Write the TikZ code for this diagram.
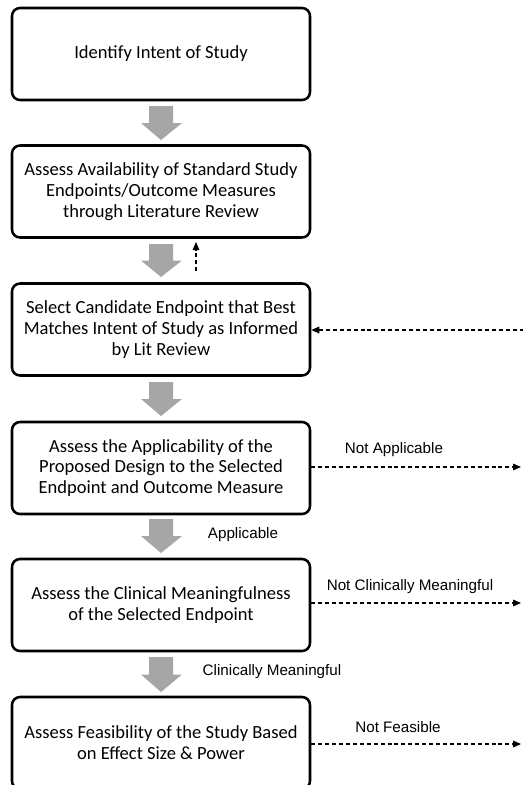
\documentclass[tikz,border=0pt]{standalone}
\usepackage{fontspec}
\usetikzlibrary{arrows.meta}
\newfontfamily\boxfont{Carlito}
\newfontfamily\lblfont{Liberation Sans}
\begin{document}
\begin{tikzpicture}[x=0.75pt,y=-0.75pt,
  stepbox/.style={draw=black,line width=1.9pt,rounded corners=6pt,fill=white,
    minimum width=223.5pt,minimum height=69pt,align=center,inner sep=0pt,
    font=\fontsize{13.9pt}{15.6pt}\boxfont},
  lbl/.style={font=\fontsize{11.4pt}{13pt}\lblfont,inner sep=0pt},
  dashline/.style={line width=0.8pt,dash pattern=on 3pt off 2.2pt,
    -{Triangle[length=6pt,width=5pt]}},
  bigarrow/.style={fill=black!35,draw=none}]
\useasboundingbox (0,0) rectangle (523,785);
\clip (0,0) rectangle (523,785);
\fill[white] (0,0) rectangle (523,785);

\node[stepbox] (b1) at (161,54) {Identify Intent of Study};
\node[stepbox] (b2) at (161,191.5) {Assess Availability of Standard Study\\Endpoints/Outcome Measures\\through Literature Review};
\node[stepbox] (b3) at (161,329.5) {Select Candidate Endpoint that Best\\Matches Intent of Study as Informed\\by Lit Review};
\node[stepbox] (b4) at (161,468) {Assess the Applicability of the\\Proposed Design to the Selected\\Endpoint and Outcome Measure};
\node[stepbox] (b5) at (161,605) {Assess the Clinical Meaningfulness\\of the Selected Endpoint};
\node[stepbox] (b6) at (161,743) {Assess Feasibility of the Study Based\\on Effect Size \& Power};

\newcommand\grayarrow[2]{%
  \fill[bigarrow] (149,#1) -- (173,#1) -- (173,{(#1+#2)/2}) -- (182,{(#1+#2)/2})
    -- (161,#2) -- (141,{(#1+#2)/2}) -- (149,{(#1+#2)/2}) -- cycle;}
\grayarrow{106}{140}
\grayarrow{244}{277}
\grayarrow{382}{416}
\grayarrow{519}{553}
\grayarrow{657}{692}

\coordinate (upS) at (196,271);
\coordinate (upE) at (196,242);
\draw[dashline] (upS) -- (upE);

\coordinate (back) at (524,330);
\draw[dashline] (back) -- (b3.east |- back);

\coordinate (na) at (521,467);
\draw[dashline] (b4.east |- na) -- (na);
\coordinate (ncm) at (521,603);
\draw[dashline] (b5.east |- ncm) -- (ncm);
\coordinate (nf) at (521,744);
\draw[dashline] (b6.east |- nf) -- (nf);

\node[lbl] (lna) at (394,450) {Not Applicable};
\node[lbl] (lap) at (243,535) {Applicable};
\node[lbl] (lncm) at (410,587) {Not Clinically Meaningful};
\node[lbl] (lcm) at (272,672) {Clinically Meaningful};
\node[lbl] (lnf) at (398,727) {Not Feasible};
\end{tikzpicture}
\end{document}
